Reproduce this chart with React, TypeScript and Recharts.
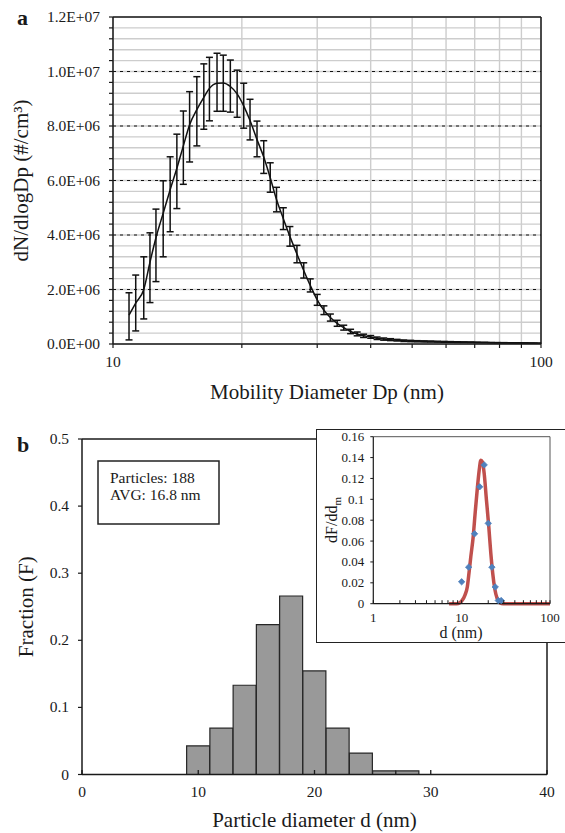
import React from 'react';
import {
  ComposedChart,
  Line,
  ErrorBar,
  XAxis,
  YAxis,
  CartesianGrid,
  ReferenceLine,
  Bar,
  Scatter,
} from 'recharts';

const FONT = '"Liberation Serif", "Times New Roman", Times, serif';
const INK = '#1a1a1a';

// ---------- Panel a : SMPS size distribution ----------
const mobilityDiameterNm = [
  10.9, 11.3, 11.8, 12.2, 12.6, 13.1, 13.6, 14.1, 14.6, 15.1, 15.7, 16.3, 16.8, 17.5, 18.1,
  18.8, 19.5, 20.2, 20.9, 21.7, 22.5, 23.3, 24.1, 25.0, 25.9, 26.9, 27.9, 28.9, 30.0, 31.1,
  32.2, 33.4, 34.6, 35.9, 37.2, 38.5, 40.0, 41.4, 42.9, 44.5, 46.1, 47.8, 49.6, 51.4, 53.3,
  55.2, 57.3, 59.4, 61.5, 63.8, 66.1, 68.5, 71.0, 73.7, 76.4, 79.1, 82.0, 85.1, 88.2, 91.4,
  94.7, 98.2,
];
// values in millions of #/cm3
const meanMillions = [
  1.06, 1.5, 2.0, 3.0, 3.9, 4.8, 5.66, 6.45, 7.27, 8.05, 8.6, 9.05, 9.38, 9.57, 9.58,
  9.45, 9.18, 8.74, 8.2, 7.5, 6.86, 6.1, 5.3, 4.6, 3.95, 3.3, 2.7, 2.15, 1.62, 1.24,
  0.97, 0.76, 0.6, 0.46, 0.37, 0.3, 0.26, 0.21, 0.18, 0.16, 0.14, 0.12, 0.11, 0.1, 0.095,
  0.09, 0.085, 0.08, 0.075, 0.07, 0.066, 0.062, 0.058, 0.054, 0.05, 0.047, 0.044, 0.041, 0.038, 0.035,
  0.032, 0.03,
];
const upperMillions = [
  1.88, 2.53, 3.2, 4.08, 4.95, 5.99, 6.87, 7.7, 8.55, 9.26, 9.81, 10.28, 10.52, 10.67, 10.6,
  10.42, 10.05, 9.57, 8.98, 8.18, 7.46, 6.65, 5.75, 5.0, 4.31, 3.62, 2.98, 2.39, 1.82, 1.4,
  1.1, 0.87, 0.69, 0.54, 0.44, 0.36, 0.31, 0.255, 0.22, 0.195, 0.17, 0.148, 0.135, 0.122, 0.115,
  0.108, 0.101, 0.095, 0.088, 0.082, 0.077, 0.072, 0.067, 0.062, 0.057, 0.053, 0.05, 0.046, 0.043, 0.039,
  0.036, 0.033,
];
const lowerMillions = [
  0.15, 0.48, 0.92, 1.52, 2.29, 3.2, 4.12, 4.97, 5.86, 6.68, 7.27, 7.88, 8.19, 8.54, 8.54,
  8.51, 8.32, 7.92, 7.49, 6.87, 6.26, 5.57, 4.85, 4.2, 3.59, 2.98, 2.42, 1.91, 1.42, 1.08,
  0.84, 0.65, 0.51, 0.38, 0.3, 0.24, 0.21, 0.165, 0.14, 0.125, 0.11, 0.092, 0.085, 0.078, 0.075,
  0.072, 0.069, 0.065, 0.062, 0.058, 0.055, 0.052, 0.049, 0.046, 0.043, 0.041, 0.038, 0.036, 0.033, 0.031,
  0.028, 0.027,
];
const panelAYTicks = [
  0, 400000, 800000, 1200000, 1600000, 2000000, 2400000, 2800000, 3200000, 3600000, 4000000,
  4400000, 4800000, 5200000, 5600000, 6000000, 6400000, 6800000, 7200000, 7600000, 8000000,
  8400000, 8800000, 9200000, 9600000, 10000000, 10400000, 10800000, 11200000, 11600000, 12000000,
];
const panelAYLabelled = [0, 2000000, 4000000, 6000000, 8000000, 10000000, 12000000];
const panelAYDotted = [2000000, 4000000, 6000000, 8000000, 10000000];
const panelAXTicks = [10, 20, 30, 40, 50, 60, 70, 80, 90, 100];
const panelAXLabelled = [10, 100];

// ---------- Panel b : TEM histogram ----------
const binCentersNm = [10, 12, 14, 16, 18, 20, 22, 24, 26, 28];
const binFraction = [0.0426, 0.0691, 0.133, 0.2234, 0.266, 0.1543, 0.0691, 0.0319, 0.0053, 0.0053];
const panelBXTicks = [0, 10, 20, 30, 40];
const panelBYTicks = [0, 0.1, 0.2, 0.3, 0.4, 0.5];

// ---------- Inset ----------
const fitDiameterNm = [
  7.2, 8.75, 9.55, 10.2, 10.9, 11.6, 12.1, 12.7, 13.5, 14.3, 15.1, 15.8, 16.5, 17.2, 18.0,
  19.1, 20.3, 21.4, 22.5, 23.7, 25.2, 27.0, 29.5, 40, 100,
];
const fitDensity = [
  0, 0, 0.001, 0.0035, 0.0083, 0.0163, 0.0291, 0.0451, 0.0639, 0.0894, 0.1118, 0.1278, 0.1374,
  0.1358, 0.1246, 0.099, 0.0735, 0.0479, 0.0287, 0.0144, 0.0051, 0.001, 0, 0, 0,
];
const pointDiameterNm = [10, 12, 14, 16, 18, 20, 22, 24, 26, 28];
const pointDensity = [0.021, 0.035, 0.067, 0.112, 0.133, 0.077, 0.035, 0.016, 0.003, 0.003];
const insetXTicks = [1, 2, 3, 4, 5, 6, 7, 8, 9, 10, 20, 30, 40, 50, 60, 70, 80, 90, 100];
const insetXLabelled = [1, 10, 100];
const insetYTicks = [0, 0.02, 0.04, 0.06, 0.08, 0.1, 0.12, 0.14, 0.16];

// ---------- derived tables ----------
const panelAData = mobilityDiameterNm.map((d, i) => ({
  d,
  mean: meanMillions[i] * 1e6,
  err: [(meanMillions[i] - lowerMillions[i]) * 1e6, (upperMillions[i] - meanMillions[i]) * 1e6],
}));
const panelBData = binCentersNm.map((c, i) => ({ c, fraction: binFraction[i] }));
const fitData = fitDiameterNm.map((d, i) => ({ d, f: fitDensity[i] }));
const pointData = pointDiameterNm.map((d, i) => ({ d, f: pointDensity[i] }));

const sci = (v: number) => {
  if (v === 0) return '0.0E+00';
  const e = Math.floor(Math.log10(v) + 1e-9);
  const m = v / Math.pow(10, e);
  return m.toFixed(1) + 'E+' + String(e).padStart(2, '0');
};

const near = (list: number[], v: number) => list.some((t) => Math.abs(t - v) < 1e-6 * Math.max(1, Math.abs(t)));

const AYTick = (props: any) => {
  const { x, y, payload } = props;
  if (!near(panelAYLabelled, payload.value)) return <g />;
  return (
    <text x={x} y={y} dy={5} textAnchor="end" fontSize={15.5} fontFamily={FONT} fill={INK}>
      {sci(payload.value)}
    </text>
  );
};

const AXTick = (props: any) => {
  const { x, y, payload } = props;
  if (!near(panelAXLabelled, payload.value)) return <g />;
  return (
    <text x={x} y={y} dy={15} textAnchor="middle" fontSize={15.5} fontFamily={FONT} fill={INK}>
      {payload.value}
    </text>
  );
};

const BXTick = (props: any) => {
  const { x, y, payload } = props;
  return (
    <g>
      <line x1={x} x2={x} y1={y} y2={y - 4.5} stroke={INK} strokeWidth={1.3} />
      <text x={x} y={y} dy={22.5} textAnchor="middle" fontSize={15.5} fontFamily={FONT} fill={INK}>
        {payload.value}
      </text>
    </g>
  );
};

const BYTick = (props: any) => {
  const { x, y, payload } = props;
  return (
    <text x={x} y={y} dy={5} textAnchor="end" fontSize={15.5} fontFamily={FONT} fill={INK}>
      {String(Math.round(payload.value * 10) / 10)}
    </text>
  );
};

const IXTick = (props: any) => {
  const { x, y, payload } = props;
  const labelled = near(insetXLabelled, payload.value);
  return (
    <g>
      <line x1={x} x2={x} y1={y} y2={y - 3.5} stroke={INK} strokeWidth={1} />
      {labelled ? (
        <text x={x} y={y} dy={18} textAnchor="middle" fontSize={13} fontFamily={FONT} fill={INK}>
          {payload.value}
        </text>
      ) : null}
    </g>
  );
};

const IYTick = (props: any) => {
  const { x, y, payload } = props;
  return (
    <text x={x} y={y} dy={4.5} textAnchor="end" fontSize={13} fontFamily={FONT} fill={INK}>
      {String(Math.round(payload.value * 100) / 100)}
    </text>
  );
};

const Diamond = (props: any) => {
  const { cx, cy } = props;
  if (cx == null || cy == null) return <g />;
  const r = 3.2;
  return (
    <polygon
      points={`${cx},${cy - r} ${cx + r},${cy} ${cx},${cy + r} ${cx - r},${cy}`}
      fill="#4F81BD"
      stroke="#4F81BD"
      strokeWidth={0.8}
    />
  );
};

export default function App() {
  return (
    <div
      style={{
        position: 'absolute',
        left: 0,
        top: 0,
        width: 565,
        height: 833,
        overflow: 'hidden',
        background: '#fff',
        fontFamily: FONT,
      }}
    >
      {/* Panel a */}
      <div style={{ position: 'absolute', left: 0, top: 0 }}>
        <ComposedChart width={565} height={400} data={panelAData} margin={{ top: 17, right: 24, bottom: 26, left: 53 }}>
          <CartesianGrid stroke="#cdcdcd" strokeWidth={1.4} />
          <XAxis
            dataKey="d"
            type="number"
            scale="log"
            domain={[10, 100]}
            allowDataOverflow
            ticks={panelAXTicks}
            interval={0}
            height={30}
            tickSize={4}
            tickMargin={4}
            tick={<AXTick />}
            axisLine={{ stroke: INK, strokeWidth: 1.5 }}
            tickLine={{ stroke: INK, strokeWidth: 1.2 }}
          />
          <YAxis
            type="number"
            domain={[0, 12000000]}
            ticks={panelAYTicks}
            interval={0}
            width={60}
            tickSize={4}
            tickMargin={9}
            tick={<AYTick />}
            axisLine={{ stroke: INK, strokeWidth: 1.5 }}
            tickLine={{ stroke: INK, strokeWidth: 1.2 }}
          />
          {panelAYDotted.map((v) => (
            <ReferenceLine key={v} y={v} stroke="#111" strokeWidth={1.2} strokeDasharray="3 4" />
          ))}
          <ReferenceLine y={12000000} stroke={INK} strokeWidth={1.5} />
          <ReferenceLine x={100} stroke={INK} strokeWidth={1.5} />
          <Line
            dataKey="mean"
            type="monotone"
            stroke="#111"
            strokeWidth={1.5}
            dot={false}
            isAnimationActive={false}
          >
            <ErrorBar dataKey="err" direction="y" width={3.5} stroke="#111" strokeWidth={1.5} isAnimationActive={false} />
          </Line>
        </ComposedChart>
      </div>

      {/* Panel b */}
      <div style={{ position: 'absolute', left: 0, top: 420 }}>
        <ComposedChart
          width={565}
          height={413}
          data={panelBData}
          margin={{ top: 19, right: 18, bottom: 28.5, left: 32 }}
          barCategoryGap={0}
          barGap={0}
        >
          <XAxis
            dataKey="c"
            type="number"
            domain={[0, 40]}
            allowDataOverflow
            ticks={panelBXTicks}
            interval={0}
            height={30}
            tickSize={0}
            tickMargin={0}
            tickLine={false}
            tick={<BXTick />}
            axisLine={{ stroke: INK, strokeWidth: 1.5 }}
          />
          <YAxis
            type="number"
            domain={[0, 0.5]}
            ticks={panelBYTicks}
            interval={0}
            width={50}
            tickSize={4}
            tickMargin={9}
            tick={<BYTick />}
            axisLine={{ stroke: INK, strokeWidth: 1.5 }}
            tickLine={{ stroke: INK, strokeWidth: 1.2 }}
          />
          <ReferenceLine y={0.5} stroke={INK} strokeWidth={1.5} />
          <ReferenceLine x={40} stroke={INK} strokeWidth={1.5} />
          <Bar dataKey="fraction" fill="#999999" stroke="#262626" strokeWidth={1.2} isAnimationActive={false} />
        </ComposedChart>
      </div>

      {/* Inset frame */}
      <div
        style={{
          position: 'absolute',
          left: 316,
          top: 429,
          width: 270,
          height: 213.5,
          border: '1.5px solid #222',
          background: '#fff',
          boxSizing: 'border-box',
        }}
      />

      {/* Inset chart */}
      <div style={{ position: 'absolute', left: 316, top: 429 }}>
        <ComposedChart width={250} height={213} data={fitData} margin={{ top: 7.7, right: 16, bottom: 18.3, left: 17.3 }}>
          <XAxis
            dataKey="d"
            type="number"
            scale="log"
            domain={[1, 100]}
            allowDataOverflow
            ticks={insetXTicks}
            interval={0}
            height={20}
            tickSize={0}
            tickMargin={0}
            tickLine={false}
            tick={<IXTick />}
            axisLine={{ stroke: INK, strokeWidth: 1.2 }}
          />
          <YAxis
            type="number"
            domain={[0, 0.16]}
            ticks={insetYTicks}
            interval={0}
            width={40}
            tickSize={3}
            tickMargin={6}
            tick={<IYTick />}
            axisLine={{ stroke: INK, strokeWidth: 1.2 }}
            tickLine={{ stroke: INK, strokeWidth: 1 }}
          />
          <ReferenceLine y={0.16} stroke="#555" strokeWidth={1} />
          <ReferenceLine x={100} stroke="#555" strokeWidth={1} />
          <Line
            dataKey="f"
            type="monotone"
            stroke="#C0504D"
            strokeWidth={3.5}
            dot={false}
            isAnimationActive={false}
          />
          <Scatter data={pointData} dataKey="f" shape={<Diamond />} isAnimationActive={false} />
        </ComposedChart>
      </div>

      {/* Text overlay */}
      <svg
        width={565}
        height={833}
        style={{ position: 'absolute', left: 0, top: 0, pointerEvents: 'none' }}
        fontFamily={FONT}
        fill={INK}
      >
        <text x={17} y={25} fontSize={22} fontWeight="bold">a</text>
        <text transform="translate(21,180.5) rotate(-90)" textAnchor="middle" dy={7} fontSize={21}>
          dN/dlogDp (#/cm³)
        </text>
        <text x={327} y={399} textAnchor="middle" fontSize={21}>Mobility Diameter Dp (nm)</text>

        <text x={17} y={452} fontSize={22} fontWeight="bold">b</text>
        <text transform="translate(26,606.7) rotate(-90)" textAnchor="middle" dy={7} fontSize={21}>
          Fraction (F)
        </text>
        <text x={314.5} y={827} textAnchor="middle" fontSize={21}>Particle diameter d (nm)</text>

        <rect x={98} y={461} width={121} height={63} fill="#fff" stroke="#222" strokeWidth={1.5} />
        <text x={110} y={483} fontSize={15.5}>Particles: 188</text>
        <text x={110} y={500} fontSize={15.5}>AVG: 16.8 nm</text>

        <text transform="translate(332,520) rotate(-90)" textAnchor="middle" dy={5} fontSize={16}>
          dF/dd<tspan fontSize={11} dy={4}>m</tspan>
        </text>
        <text x={461} y={638} textAnchor="middle" fontSize={16}>d (nm)</text>
      </svg>
    </div>
  );
}
